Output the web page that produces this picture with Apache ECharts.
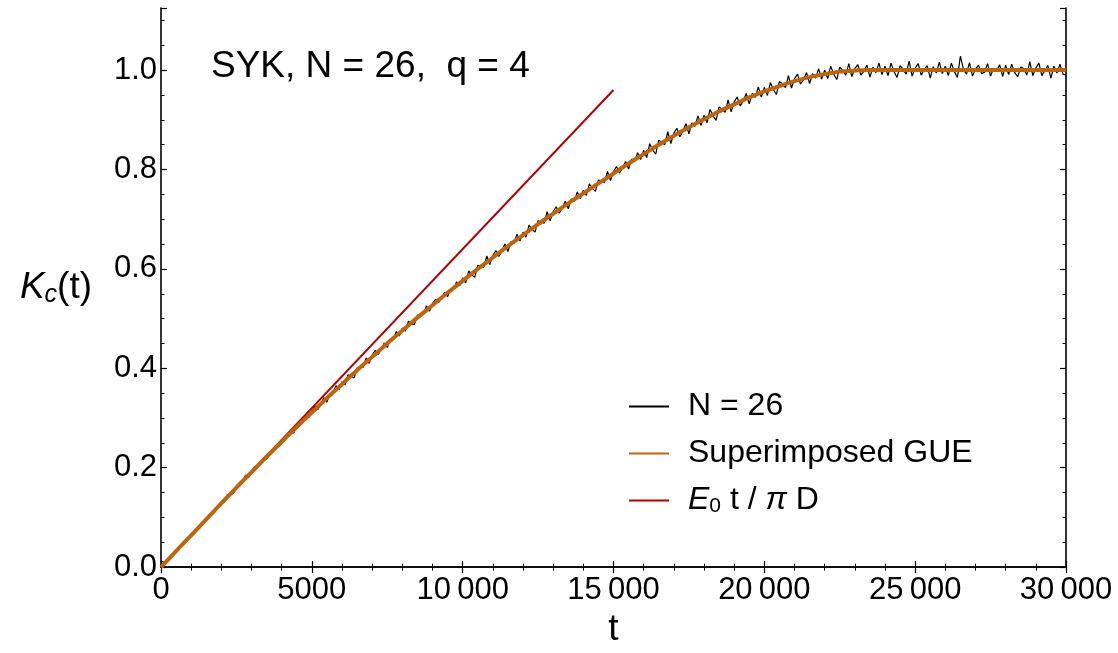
<!DOCTYPE html>
<html>
<head>
<meta charset="utf-8">
<script src="https://cdn.jsdelivr.net/npm/echarts@6/dist/echarts.min.js"></script>
<style>
  html, body { margin: 0; padding: 0; background: #fff; }
  #main { width: 1118px; height: 653px; }
</style>
</head>
<body>
<div id="main"></div>
<script>
// K_c(t) for N = 26, one value every 100 in t
const nStep = 100;
const kcN26 = [
  0.012, 0.010, 0.014, 0.019, 0.026, 0.034, 0.036, 0.047, 0.050, 0.056,
  0.066, 0.069, 0.079, 0.082, 0.091, 0.094, 0.105, 0.107, 0.118, 0.120,
  0.131, 0.130, 0.146, 0.146, 0.148, 0.164, 0.167, 0.169, 0.185, 0.180,
  0.193, 0.202, 0.200, 0.209, 0.220, 0.217, 0.230, 0.232, 0.245, 0.242,
  0.255, 0.254, 0.269, 0.269, 0.270, 0.286, 0.288, 0.291, 0.305, 0.301,
  0.314, 0.324, 0.317, 0.328, 0.341, 0.332, 0.349, 0.349, 0.365, 0.357,
  0.373, 0.367, 0.387, 0.383, 0.381, 0.401, 0.402, 0.402, 0.421, 0.410,
  0.426, 0.436, 0.428, 0.438, 0.451, 0.442, 0.459, 0.458, 0.474, 0.465,
  0.481, 0.475, 0.495, 0.490, 0.488, 0.507, 0.508, 0.508, 0.526, 0.515,
  0.530, 0.539, 0.532, 0.541, 0.553, 0.544, 0.560, 0.559, 0.574, 0.566,
  0.582, 0.572, 0.596, 0.588, 0.583, 0.607, 0.606, 0.603, 0.626, 0.609,
  0.627, 0.637, 0.625, 0.636, 0.650, 0.635, 0.655, 0.651, 0.670, 0.656,
  0.674, 0.664, 0.688, 0.679, 0.674, 0.697, 0.695, 0.692, 0.715, 0.697,
  0.715, 0.725, 0.712, 0.722, 0.736, 0.721, 0.741, 0.736, 0.755, 0.741,
  0.758, 0.748, 0.771, 0.762, 0.756, 0.779, 0.777, 0.774, 0.796, 0.778,
  0.796, 0.806, 0.793, 0.803, 0.816, 0.801, 0.821, 0.816, 0.834, 0.820,
  0.839, 0.824, 0.852, 0.839, 0.831, 0.859, 0.855, 0.850, 0.876, 0.852,
  0.873, 0.883, 0.866, 0.877, 0.892, 0.872, 0.894, 0.887, 0.908, 0.889,
  0.909, 0.894, 0.921, 0.908, 0.899, 0.926, 0.921, 0.915, 0.940, 0.916,
  0.936, 0.946, 0.928, 0.938, 0.953, 0.932, 0.953, 0.945, 0.966, 0.946,
  0.965, 0.949, 0.975, 0.961, 0.951, 0.977, 0.972, 0.965, 0.989, 0.964,
  0.983, 0.992, 0.972, 0.981, 0.995, 0.973, 0.993, 0.984, 1.003, 0.982,
  1.000, 0.983, 1.008, 0.992, 0.981, 1.006, 0.999, 0.990, 1.013, 0.987,
  1.003, 1.011, 0.990, 0.998, 1.010, 0.986, 1.006, 0.995, 1.014, 0.991,
  1.008, 0.989, 1.014, 0.997, 0.985, 1.009, 1.002, 0.992, 1.018, 0.988,
  1.004, 1.013, 0.990, 1.001, 1.009, 0.984, 1.007, 0.994, 1.016, 0.993,
  1.008, 0.989, 1.014, 0.997, 0.985, 1.028, 1.002, 0.992, 1.015, 0.988,
  1.002, 1.010, 0.993, 0.996, 1.013, 0.988, 1.004, 0.998, 1.011, 0.987,
  1.010, 0.991, 1.012, 0.995, 0.987, 1.006, 1.003, 0.990, 1.017, 0.989,
  1.004, 1.014, 0.989, 1.000, 1.009, 0.984, 1.008, 0.994, 1.012, 0.992,
  0.990
];

// superimposed GUE curve, one value every 500 in t
const gueStep = 500;
const kcGUE = [
  0.000, 0.032, 0.064, 0.096, 0.128, 0.160, 0.191, 0.222, 0.252, 0.282,
  0.311, 0.340, 0.368, 0.396, 0.423, 0.450, 0.476, 0.502, 0.527, 0.552,
  0.576, 0.600, 0.623, 0.646, 0.668, 0.690, 0.711, 0.732, 0.752, 0.772,
  0.792, 0.812, 0.831, 0.850, 0.868, 0.885, 0.901, 0.917, 0.931, 0.945,
  0.957, 0.968, 0.978, 0.986, 0.992, 0.997, 0.999, 1.000, 1.000, 1.000,
  1.000, 1.000, 1.000, 1.000, 1.000, 1.000, 1.000, 1.000, 1.000, 1.000,
  1.000
];

// E0 t / pi D straight line
const linT = [0, 15000];
const linK = [0, 0.96];

const xMin = 0, xMax = 30000, xStep = 5000;
const yMin = 0, yMax = 1.125, yStep = 0.2, yMinorStep = 0.05;

const FONT = '"Liberation Sans", Arial, sans-serif';

const fmtX = v => {
  const s = String(Math.round(v));
  return s.length > 4 ? s.slice(0, -3) + '\u2009' + s.slice(-3) : s;
};
const fmtY = v => {
  const r = v / yStep;
  return Math.abs(r - Math.round(r)) < 1e-6 ? v.toFixed(1) : '';
};

const frame = { show: true, lineStyle: { color: '#000', width: 1.6 } };
const majorTick = { inside: true, length: 6, lineStyle: { color: '#000', width: 1.2 } };
const minorTickY = { inside: true, length: 3.5, lineStyle: { color: '#000', width: 1 } };
const minorTickX = { show: true, splitNumber: 5, length: 3.5, lineStyle: { color: '#000', width: 1 } };

const chart = echarts.init(document.getElementById('main'));

chart.setOption({
  animation: false,
  backgroundColor: '#fff',
  textStyle: { fontFamily: FONT },
  title: {
    text: 'SYK, N = 26,\u00a0 q = 4',
    left: 211, top: 48, padding: 0,
    textStyle: { fontSize: 37, fontWeight: 'normal', color: '#000', fontFamily: FONT }
  },
  legend: {
    orient: 'vertical',
    left: 624, top: 385,
    itemWidth: 40, itemHeight: 2,
    itemGap: 14,
    icon: 'rect',
    data: ['N = 26', 'Superimposed GUE', 'lin'],
    formatter: name => name === 'lin' ? '{e|E}{z|0}{n| t / }{e|\u03c0}{n| D}' : name,
    textStyle: {
      fontSize: 32, color: '#000', fontFamily: FONT, lineHeight: 33,
      padding: [0, 0, 0, 14],
      rich: {
        e: { fontSize: 32, fontStyle: 'italic', fontFamily: FONT, color: '#000' },
        z: { fontSize: 21, fontFamily: FONT, color: '#000', padding: [12, 0, 0, 0] },
        n: { fontSize: 32, fontFamily: FONT, color: '#000' }
      }
    }
  },
  grid: { left: 161, right: 52, top: 8, bottom: 85, containLabel: false },
  xAxis: [
    {
      type: 'value', min: xMin, max: xMax, interval: xStep, position: 'bottom',
      name: 't', nameLocation: 'middle', nameGap: 30,
      nameTextStyle: { fontSize: 37, color: '#000', fontFamily: FONT },
      axisLine: frame,
      axisTick: majorTick,
      minorTick: minorTickX,
      axisLabel: { fontSize: 31, color: '#000', margin: 8, formatter: fmtX, fontFamily: FONT },
      splitLine: { show: false }
    },
    {
      type: 'value', min: xMin, max: xMax, interval: xStep, position: 'top',
      axisLine: frame,
      axisTick: majorTick,
      minorTick: minorTickX,
      axisLabel: { show: false },
      splitLine: { show: false }
    }
  ],
  yAxis: [
    {
      type: 'value', min: yMin, max: yMax, interval: yStep, position: 'left',
      name: '{k|K}{c|c}{n|(t)}', nameLocation: 'middle', nameGap: 69, nameRotate: 0,
      nameTextStyle: {
        color: '#000',
        rich: {
          k: { fontSize: 37, fontStyle: 'italic', fontFamily: FONT, color: '#000' },
          c: { fontSize: 25, fontStyle: 'italic', fontFamily: FONT, color: '#000', padding: [14, 0, 0, 0] },
          n: { fontSize: 37, fontFamily: FONT, color: '#000' }
        }
      },
      axisLine: frame,
      axisTick: majorTick,
      axisLabel: { fontSize: 31, color: '#000', margin: 4, formatter: fmtY, fontFamily: FONT, padding: [5, 0, 0, 0] },
      splitLine: { show: false }
    },
    {
      type: 'value', min: yMin, max: yMax, interval: yMinorStep, position: 'left',
      axisLine: { show: false },
      axisTick: minorTickY,
      axisLabel: { show: false },
      splitLine: { show: false }
    },
    {
      type: 'value', min: yMin, max: yMax, interval: yStep, position: 'right',
      axisLine: frame,
      axisTick: majorTick,
      axisLabel: { show: false },
      splitLine: { show: false }
    },
    {
      type: 'value', min: yMin, max: yMax, interval: yMinorStep, position: 'right',
      axisLine: { show: false },
      axisTick: minorTickY,
      axisLabel: { show: false },
      splitLine: { show: false }
    }
  ],
  series: [
    {
      name: 'N = 26', type: 'line', showSymbol: false, symbol: 'none',
      lineStyle: { color: '#000', width: 1.2 }, itemStyle: { color: '#000' },
      data: kcN26.map((k, i) => [i * nStep, k]),
      z: 2
    },
    {
      name: 'lin', type: 'line', showSymbol: false, symbol: 'none',
      lineStyle: { color: '#b40000', width: 2 }, itemStyle: { color: '#b40000' },
      data: linT.map((t, i) => [t, linK[i]]),
      z: 3
    },
    {
      name: 'Superimposed GUE', type: 'line', showSymbol: false, symbol: 'none', smooth: 0.3,
      lineStyle: { color: '#bf640c', width: 4 }, itemStyle: { color: '#bf640c' },
      data: kcGUE.map((k, i) => [i * gueStep, k]),
      z: 4
    }
  ]
});
</script>
</body>
</html>
